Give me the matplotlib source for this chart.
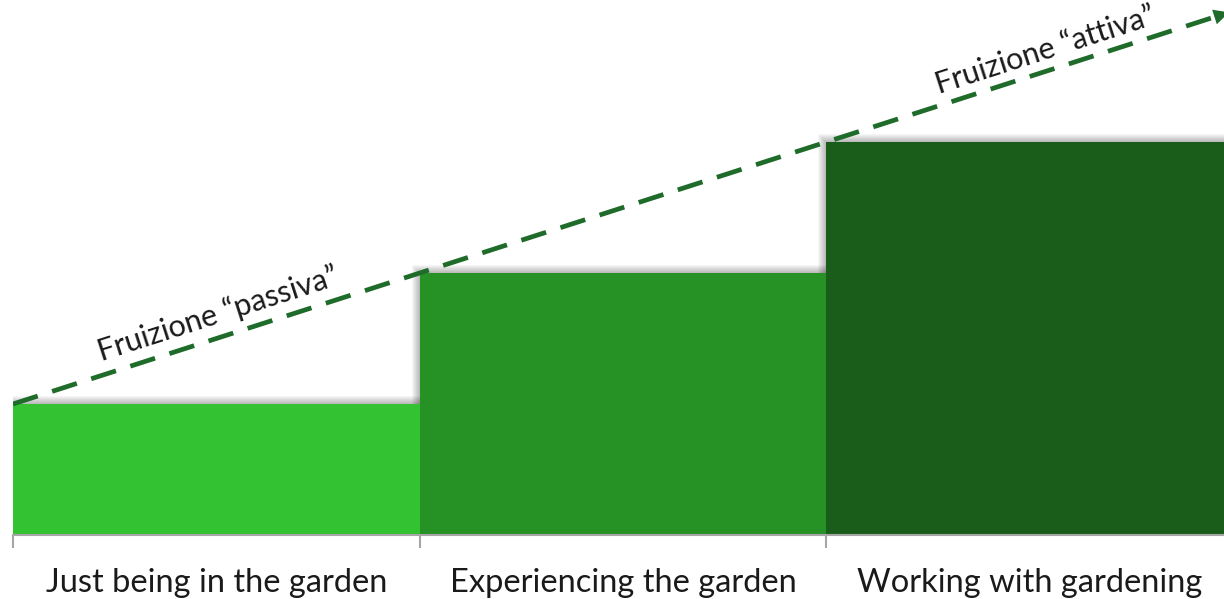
import numpy as np
import matplotlib
matplotlib.use("Agg")
from matplotlib import pyplot as plt
from matplotlib.patches import Rectangle

plt.rcParams['font.family'] = ['Lato', 'DejaVu Sans']

# data
categories = ["Just being in the garden", "Experiencing the garden", "Working with gardening"]
levels = [1, 2, 3]
bar_colors = ["#32C232", "#269226", "#1A5C1A"]
arrow_labels = ["Fruizione \u201cpassiva\u201d", "Fruizione \u201cattiva\u201d"]

W, H = 1224, 599
fig = plt.figure(figsize=(W / 100, H / 100), dpi=100)
px_x = 406.7   # pixels per bar
px_y = 131.0   # pixels per level unit
ax = fig.add_axes([13 / W, (H - 535) / H, 3 * px_x / W, 535 / H])
ax.set_xlim(0, 3)
ax.set_ylim(0, 535 / px_y)

x = np.arange(len(levels))

# soft shadow around the bar tops
for k in range(1, 9):
    dx = k / px_x
    dy = k / px_y
    for xi, h in zip(x, levels):
        ax.add_patch(Rectangle((xi - dx, 0), 1 + 2 * dx, h + dy,
                               facecolor="#000000", alpha=0.035, lw=0, zorder=1))

ax.bar(x, levels, width=1.0, align="edge", color=bar_colors, zorder=2, linewidth=0)

# dashed arrow through the steps
x_end, y_end = 2.975, 3.975
ax.plot([0, x_end - 0.02], [1, y_end - 0.02], color="#1E6B2A", lw=3.4,
        dashes=(5.5, 3.2), zorder=3, solid_capstyle="butt", dash_capstyle="butt")
ax.annotate("", xy=(x_end + 0.015, y_end + 0.015), xytext=(x_end - 0.06, y_end - 0.06),
            arrowprops=dict(arrowstyle="-|>,head_length=1.1,head_width=0.55",
                            color="#1E6B2A", lw=0, shrinkA=0, shrinkB=0),
            zorder=4)

ang = np.degrees(np.arctan(px_y / px_x))
ax.text(0.515, 1.515 + 0.07, arrow_labels[0], rotation=ang, rotation_mode="anchor",
        ha="center", va="bottom", fontsize=22, color="#1A1A1A")
ax.text(2.55, 3.55 + 0.05, arrow_labels[1], rotation=ang, rotation_mode="anchor",
        ha="center", va="bottom", fontsize=22, color="#1A1A1A")

# axis styling
for s in ["top", "right", "left"]:
    ax.spines[s].set_visible(False)
ax.spines["bottom"].set_color("#A6A6A6")
ax.spines["bottom"].set_linewidth(1.5)
ax.set_yticks([])
ax.set_xticks([0, 1, 2, 3])
ax.set_xticklabels([])
ax.tick_params(axis="x", which="major", length=9, width=1.5, color="#A6A6A6", direction="out")
ax.set_xticks(x + 0.5, minor=True)
ax.set_xticklabels(categories, minor=True, fontsize=23.5, color="#1A1A1A")
ax.tick_params(axis="x", which="minor", length=0, pad=24)

fig.savefig("out.png", dpi=100)
